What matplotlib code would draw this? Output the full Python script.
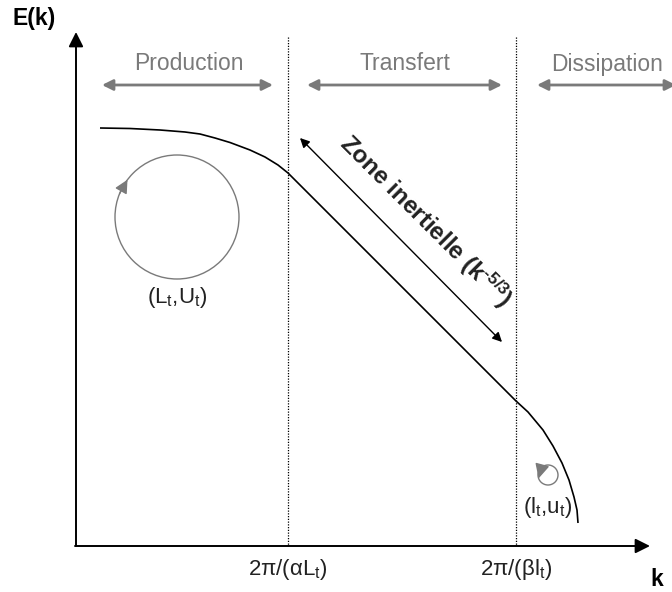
import matplotlib
matplotlib.use("Agg")
import matplotlib.pyplot as plt
import numpy as np
from matplotlib.patches import Circle

plt.rcParams['font.family'] = ['Liberation Sans', 'DejaVu Sans']
plt.rcParams['mathtext.fontset'] = 'custom'
plt.rcParams['mathtext.rm'] = 'Liberation Sans'
plt.rcParams['mathtext.it'] = 'Liberation Sans:italic'
plt.rcParams['mathtext.bf'] = 'Liberation Sans:bold'

curve_k = [100, 130, 160, 185, 200, 215, 230, 250, 265, 278, 288,
           516, 528, 543, 553, 562, 569, 574, 577, 578]
curve_E = [128, 128.5, 130, 132, 134, 138, 142.5, 150, 157, 165, 173,
           401, 412, 430, 446, 463, 480, 497, 510, 523]

# limites des zones
zone_k = [288, 516]
zone_labels = ['2π/(αL$_\\mathregular{t}$)', '2π/(βl$_\\mathregular{t}$)']

# bandeau du haut
band_names = ['Production', 'Transfert', 'Dissipation']
band_start = [102, 307, 537]
band_end = [273, 502, 676]
band_center = [189, 405, 607]

# tourbillons : centre x, centre y, rayon
eddy_x = [177, 548]
eddy_y = [217, 475]
eddy_r = [62, 10]
eddy_labels = ['(L$_\\mathregular{t}$,U$_\\mathregular{t}$)',
               '(l$_\\mathregular{t}$,u$_\\mathregular{t}$)']
eddy_label_y = [298, 507]

gray = '#7a7a7a'

fig = plt.figure(figsize=(6.72, 5.92), dpi=100)
ax = fig.add_axes([0, 0, 1, 1])
ax.set_xlim(0, 672)
ax.set_ylim(592, 0)
ax.axis('off')

# axes avec flèches
ax.annotate('', xy=(76, 32), xytext=(76, 546),
            arrowprops=dict(arrowstyle='-|>', color='black', lw=1.4,
                            mutation_scale=22, shrinkA=0, shrinkB=0))
ax.annotate('', xy=(650, 546), xytext=(75, 546),
            arrowprops=dict(arrowstyle='-|>', color='black', lw=1.4,
                            mutation_scale=22, shrinkA=0, shrinkB=0))
ax.text(13, 18, 'E(k)', fontsize=16.5, fontweight='bold', va='center', ha='left')
ax.text(657, 579, 'k', fontsize=16.5, fontweight='bold', va='center', ha='center')

# lignes pointillées + étiquettes
for k, lab in zip(zone_k, zone_labels):
    ax.plot([k, k], [37, 546], color='black', lw=0.9, linestyle=(0, (1, 1.2)))
    ax.text(k, 569, lab, fontsize=16, ha='center', va='center', color='#222222')

# courbe
ax.plot(curve_k, curve_E, color='black', lw=1.2, solid_capstyle='butt')

# bandeau
for name, x0, x1, xc in zip(band_names, band_start, band_end, band_center):
    ax.text(xc, 64, name, fontsize=16.5, ha='center', va='center', color=gray)
    ax.annotate('', xy=(x1, 85), xytext=(x0, 85),
                arrowprops=dict(arrowstyle='<|-|>', color=gray, lw=2,
                                mutation_scale=16, shrinkA=0, shrinkB=0),
                annotation_clip=False)

# zone inertielle
ax.annotate('', xy=(502, 342), xytext=(300, 138),
            arrowprops=dict(arrowstyle='<|-|>', color='black', lw=1,
                            mutation_scale=14, shrinkA=0, shrinkB=0))
ax.text(426, 221, 'Zone inertielle (k$^{\\mathregular{\u20105/3}}$)', fontsize=17.5,
        fontweight='bold', rotation=-45, rotation_mode='anchor',
        ha='center', va='center', color='#222222')

# tourbillons
for cx, cy, r, lab, ly in zip(eddy_x, eddy_y, eddy_r, eddy_labels, eddy_label_y):
    ax.add_patch(Circle((cx, cy), r, fill=False, edgecolor=gray, lw=1.0))
    ax.text(cx, ly, lab, fontsize=16, ha='center', va='center', color='#222222')

# têtes de flèche sur les cercles
a_tip, a_tail = np.radians(143), np.radians(158)
ax.annotate('', xy=(eddy_x[0] + eddy_r[0] * np.cos(a_tip), eddy_y[0] - eddy_r[0] * np.sin(a_tip)),
            xytext=(eddy_x[0] + eddy_r[0] * np.cos(a_tail), eddy_y[0] - eddy_r[0] * np.sin(a_tail)),
            arrowprops=dict(arrowstyle='-|>', color=gray, lw=1, mutation_scale=20,
                            shrinkA=0, shrinkB=0))
b_tip, b_tail = np.radians(200), np.radians(130)
ax.annotate('', xy=(eddy_x[1] + eddy_r[1] * np.cos(b_tip), eddy_y[1] - eddy_r[1] * np.sin(b_tip)),
            xytext=(eddy_x[1] + eddy_r[1] * np.cos(b_tail), eddy_y[1] - eddy_r[1] * np.sin(b_tail)),
            arrowprops=dict(arrowstyle='-|>', color=gray, lw=1, mutation_scale=22,
                            shrinkA=0, shrinkB=0))

fig.savefig('out.png', dpi=100)
